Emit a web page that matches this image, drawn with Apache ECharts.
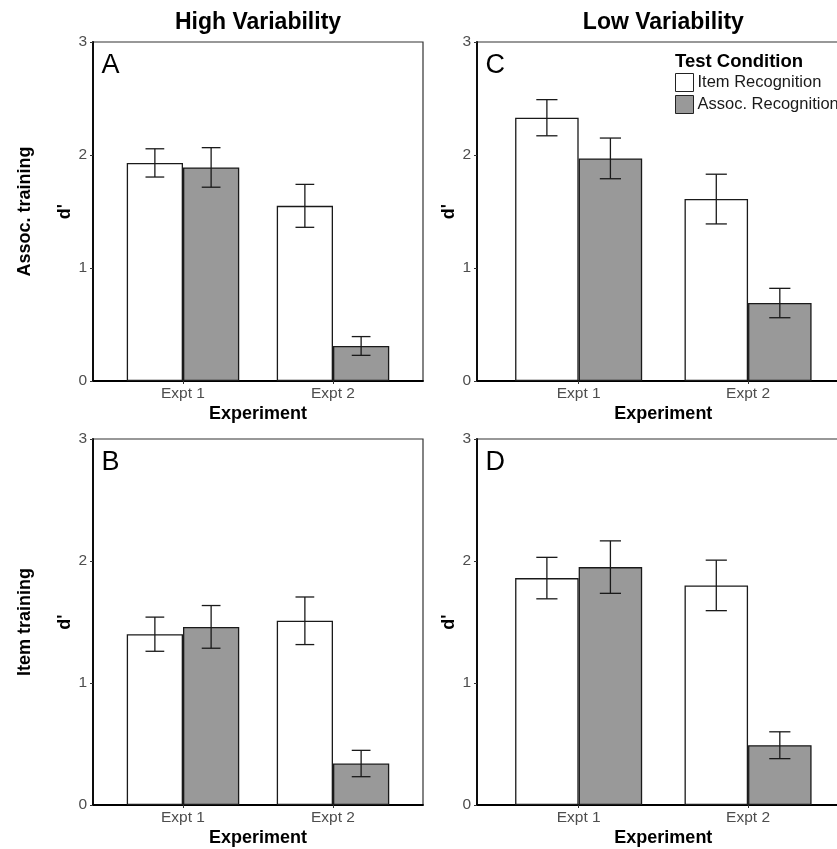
<!DOCTYPE html>
<html>
<head>
<meta charset="utf-8">
<style>
  html, body { margin: 0; padding: 0; background: #fff; }
  #chart { width: 837px; height: 849px; }
</style>
<script src="https://cdn.jsdelivr.net/npm/echarts@6/dist/echarts.min.js"></script>
</head>
<body>
<div id="chart"></div>
<script>
// ---- data ----
const categories = ['Expt 1', 'Expt 2'];
const yTicks = [0, 1, 2, 3];
const seriesNames = ['Item Recognition', 'Assoc. Recognition'];
const panelLetters = ['A', 'C', 'B', 'D'];
const columnTitles = ['High Variability', 'Low Variability'];
const rowTitles = ['Assoc. training', 'Item training'];

// Panel A: High variability, Assoc. training
const itemA = [1.93, 1.55];
const itemErrA = [0.125, 0.19];
const assocA = [1.89, 0.31];
const assocErrA = [0.175, 0.083];
// Panel C: Low variability, Assoc. training
const itemC = [2.33, 1.61];
const itemErrC = [0.16, 0.22];
const assocC = [1.97, 0.69];
const assocErrC = [0.18, 0.13];
// Panel B: High variability, Item training
const itemB = [1.40, 1.51];
const itemErrB = [0.14, 0.195];
const assocB = [1.46, 0.34];
const assocErrB = [0.175, 0.108];
// Panel D: Low variability, Item training
const itemD = [1.86, 1.80];
const itemErrD = [0.17, 0.207];
const assocD = [1.95, 0.49];
const assocErrD = [0.215, 0.11];

const panelData = [
  { item: itemA, itemErr: itemErrA, assoc: assocA, assocErr: assocErrA },
  { item: itemC, itemErr: itemErrC, assoc: assocC, assocErr: assocErrC },
  { item: itemB, itemErr: itemErrB, assoc: assocB, assocErr: assocErrB },
  { item: itemD, itemErr: itemErrD, assoc: assocD, assocErr: assocErrD }
];

// ---- layout ----
const FONT = 'Liberation Sans, Arial, Helvetica, sans-serif';
const grids = [
  { left: 93, top: 42, width: 330, height: 339 },
  { left: 477, top: 42, width: 372.7, height: 339 },
  { left: 93, top: 439, width: 330, height: 366 },
  { left: 477, top: 439, width: 372.7, height: 366 }
];
const BAR_FRAC = 0.375;
const CAP_HALF = 0.0625;

const chart = echarts.init(document.getElementById('chart'), null, { renderer: 'canvas' });

const option = {
  animation: false,
  backgroundColor: '#fff',
  grid: grids.map(g => Object.assign({
    show: true, borderColor: '#333', borderWidth: 1.2, backgroundColor: 'transparent',
    containLabel: false, outerBoundsMode: 'none'
  }, g)),
  xAxis: grids.map((g, i) => ({
    type: 'value',
    gridIndex: i,
    min: 0.4,
    max: 2.6,
    splitLine: { show: false },
    axisLine: { show: true, onZero: false, lineStyle: { color: '#000', width: 1.8 } },
    axisTick: { show: true, length: 3, lineStyle: { color: '#333', width: 1 }, customValues: [1, 2] },
    axisLabel: {
      customValues: [1, 2],
      formatter: v => categories[Math.round(v) - 1] || '',
      color: '#4d4d4d', fontSize: 15.5, fontFamily: FONT, margin: 5
    },
    name: 'Experiment',
    nameLocation: 'middle',
    nameGap: 24,
    nameTextStyle: { color: '#000', fontSize: 18, fontWeight: 'bold', fontFamily: FONT }
  })),
  yAxis: grids.map((g, i) => ({
    type: 'value',
    gridIndex: i,
    min: 0,
    max: 3,
    interval: 1,
    splitLine: { show: false },
    axisLine: { show: true, onZero: false, lineStyle: { color: '#000', width: 1.8 } },
    axisTick: { show: true, length: 3, lineStyle: { color: '#333', width: 1 } },
    axisLabel: {
      formatter: v => (yTicks.indexOf(v) >= 0 ? String(v) : ''),
      color: '#4d4d4d', fontSize: 15.5, fontFamily: FONT, margin: 6
    },
    name: "d'",
    nameLocation: 'middle',
    nameRotate: 90,
    nameGap: 15,
    nameTextStyle: { color: '#000', fontSize: 18, fontWeight: 'bold', fontFamily: FONT }
  })),
  legend: {
    data: seriesNames,
    orient: 'vertical',
    left: 675,
    top: 73,
    padding: 0,
    itemWidth: 18,
    itemHeight: 18,
    itemGap: 3,
    icon: 'rect',
    selectedMode: false,
    textStyle: { color: '#1a1a1a', fontSize: 16.5, fontFamily: FONT, padding: [0, 0, 0, -1] },
    itemStyle: { borderColor: '#222', borderWidth: 1 }
  },
  graphic: [],
  series: []
};

// texts
columnTitles.forEach((t, c) => {
  const g = grids[c];
  option.graphic.push({
    type: 'text', silent: true,
    x: g.left + g.width / 2, y: 23,
    style: { text: t, fill: '#000', font: 'bold 23px ' + FONT, textAlign: 'center', textVerticalAlign: 'middle' }
  });
});
rowTitles.forEach((t, r) => {
  const g = grids[r * 2];
  option.graphic.push({
    type: 'text', silent: true,
    x: 25, y: g.top + g.height / 2, rotation: Math.PI / 2,
    style: { text: t, fill: '#000', font: 'bold 18px ' + FONT, textAlign: 'center', textVerticalAlign: 'middle' }
  });
});
panelLetters.forEach((L, i) => {
  const g = grids[i];
  option.graphic.push({
    type: 'text', silent: true,
    x: g.left + 8.5, y: g.top + 24,
    style: { text: L, fill: '#000', font: '27px ' + FONT, textAlign: 'left', textVerticalAlign: 'middle' }
  });
});
option.graphic.push({
  type: 'text', silent: true,
  x: 675, y: 62,
  style: { text: 'Test Condition', fill: '#000', font: 'bold 18.5px ' + FONT, textAlign: 'left', textVerticalAlign: 'middle' }
});

// series
panelData.forEach((p, i) => {
  option.series.push({
    name: seriesNames[0], type: 'bar', xAxisIndex: i, yAxisIndex: i,
    barWidth: (BAR_FRAC * 100) + '%', barGap: '0%',
    itemStyle: { color: '#ffffff', borderColor: '#1a1a1a', borderWidth: 1.3 },
    data: categories.map((c, k) => [k + 1, p.item[k]])
  });
  option.series.push({
    name: seriesNames[1], type: 'bar', xAxisIndex: i, yAxisIndex: i,
    barWidth: (BAR_FRAC * 100) + '%', barGap: '0%',
    itemStyle: { color: '#999999', borderColor: '#1a1a1a', borderWidth: 1.3 },
    data: categories.map((c, k) => [k + 1, p.assoc[k]])
  });
  const errData = [];
  categories.forEach((c, k) => {
    errData.push([k + 1, p.item[k], p.itemErr[k], -1]);
    errData.push([k + 1, p.assoc[k], p.assocErr[k], 1]);
  });
  option.series.push({
    type: 'custom', xAxisIndex: i, yAxisIndex: i, z: 10, silent: true,
    clip: false,
    renderItem: function (params, api) {
      const xc = api.value(0) + api.value(3) * BAR_FRAC / 2;
      const m = api.value(1), e = api.value(2);
      const top = api.coord([xc, m + e]);
      const bot = api.coord([xc, m - e]);
      const l = api.coord([xc - CAP_HALF, m])[0];
      const r = api.coord([xc + CAP_HALF, m])[0];
      const st = { stroke: '#1a1a1a', lineWidth: 1.3 };
      return {
        type: 'group',
        children: [
          { type: 'line', shape: { x1: top[0], y1: top[1], x2: bot[0], y2: bot[1] }, style: st },
          { type: 'line', shape: { x1: l, y1: top[1], x2: r, y2: top[1] }, style: st },
          { type: 'line', shape: { x1: l, y1: bot[1], x2: r, y2: bot[1] }, style: st }
        ]
      };
    },
    data: errData
  });
});

chart.setOption(option);
</script>
</body>
</html>
